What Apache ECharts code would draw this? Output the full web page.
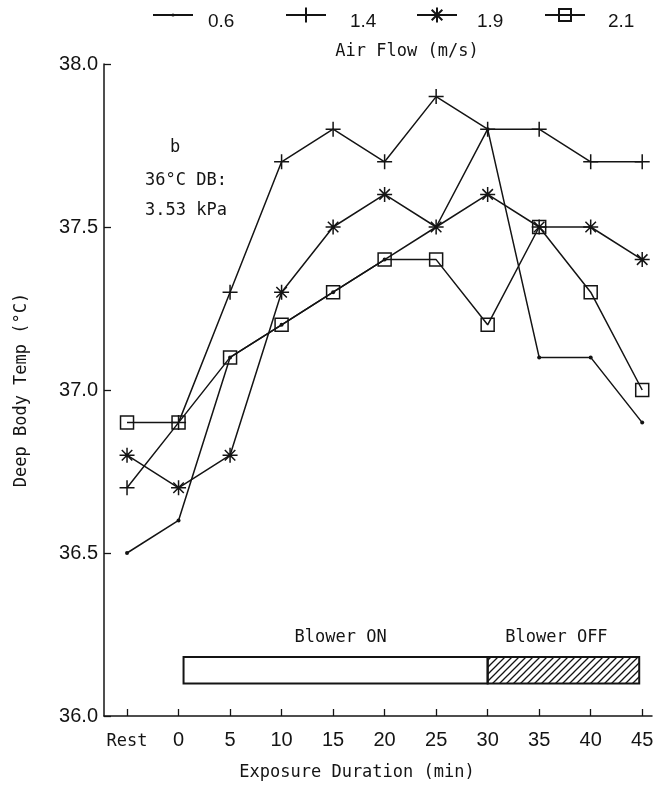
<!DOCTYPE html>
<html><head><meta charset="utf-8">
<script src="https://cdn.jsdelivr.net/npm/echarts@6/dist/echarts.min.js"></script>
<style>html,body{margin:0;padding:0;background:#fff}#c{width:657px;height:787px}</style>
</head><body><div id="c"></div>
<script>
// ---- data ----
const categories = ['Rest','0','5','10','15','20','25','30','35','40','45'];
const seriesNames = ['0.6','1.4','1.9','2.1'];
const flow06 = [36.5,36.6,37.1,37.2,37.3,37.4,37.5,37.8,37.1,37.1,36.9];
const flow14 = [36.7,36.9,37.3,37.7,37.8,37.7,37.9,37.8,37.8,37.7,37.7];
const flow19 = [36.8,36.7,36.8,37.3,37.5,37.6,37.5,37.6,37.5,37.5,37.4];
const flow21 = [36.9,36.9,37.1,37.2,37.3,37.4,37.4,37.2,37.5,37.3,37.0];
const yTicks = [36.0,36.5,37.0,37.5,38.0];
const blowerPhases = [['Blower ON',0,30],['Blower OFF',30,45]]; // minutes
const legendTitle = 'Air Flow (m/s)';
const xTitle = 'Exposure Duration (min)';
const yTitle = 'Deep Body Temp (°C)';
const noteLines = ['b','36°C DB:','3.53 kPa'];

// ---- styling ----
const INK = '#141414';
const MONO = '"DejaVu Sans Mono", "Liberation Mono", monospace';
const SANS = '"Liberation Sans", Arial, sans-serif';
const plusPath = 'path://M0,5 L10,5 M5,0 L5,10';
const starPath = 'path://M0,5 L10,5 M5,0 L5,10 M1.5,1.5 L8.5,8.5 M8.5,1.5 L1.5,8.5';

const pc = document.createElement('canvas'); pc.width = 7; pc.height = 7;
const g = pc.getContext('2d'); g.strokeStyle = INK; g.lineWidth = 1.3; g.beginPath();
g.moveTo(0,7); g.lineTo(7,0); g.moveTo(-1,1); g.lineTo(1,-1); g.moveTo(6,8); g.lineTo(8,6); g.stroke();
const hatch = {image: pc, repeat: 'repeat'};

const idx = categories.map((c,i)=>i);
const toPairs = arr => arr.map((v,i)=>[idx[i], v]);
const allData = [flow06, flow14, flow19, flow21];
const symbols = [
  {symbol:'circle', symbolSize:4, itemStyle:{color:INK, borderWidth:0}},
  {symbol:plusPath, symbolSize:15, itemStyle:{color:'rgba(0,0,0,0)', borderColor:INK, borderWidth:1.5}},
  {symbol:starPath, symbolSize:15, itemStyle:{color:'rgba(0,0,0,0)', borderColor:INK, borderWidth:1.5}},
  {symbol:'rect', symbolSize:13, itemStyle:{color:'rgba(0,0,0,0)', borderColor:INK, borderWidth:1.5}}
];
const legendLefts = [152, 285, 416, 544];
const legendTextX = [208, 350, 477, 608];
const legendItemH = [4, 19, 19, 15];
const LEG_Y = 15;

const chart = echarts.init(document.getElementById('c'), null, {renderer:'canvas'});
const lineSeries = seriesNames.map((n,i)=>Object.assign({
  name:n, type:'line', data: toPairs(allData[i]), showAllSymbol:true,
  lineStyle:{color:INK, width:1.5}, emphasis:{disabled:true}, animation:false, z:3
}, symbols[i]));

const blowerSeries = {
  type:'custom', name:'blower', animation:false, silent:true, z:2, clip:false,
  data: blowerPhases.map((p,i)=>[p[1]/5+1, p[2]/5+1, i]),
  encode:{x:[0,1]},
  renderItem(params, api){
    const x0 = api.value(0), x1 = api.value(1), k = api.value(2);
    const a = api.coord([x0, 36.181]); const b = api.coord([x1, 36.10]);
    const left = a[0] + (k===0 ? 5 : 0), right = b[0] - (k===1 ? 3 : 0);
    return {type:'group', children:[
      {type:'rect', shape:{x:left, y:a[1], width:right-left, height:b[1]-a[1]},
        style:{fill: k===0 ? '#fff' : hatch, stroke:INK, lineWidth:2}},
      {type:'text', style:{text: blowerPhases[k][0], x:(left+right)/2 + (k===0?5:-7), y:a[1]-19,
        align:'center', verticalAlign:'middle', font:'17px ' + MONO, fill:INK}}
    ]};
  }
};

const txt = (text, x, y, opts) => Object.assign({type:'text', x, y,
  style:Object.assign({text, font:'17px '+MONO, fill:INK, align:'center', verticalAlign:'middle'}, (opts||{}).style||{})},
  (opts||{}).el||{});

chart.setOption({
  backgroundColor:'#fff',
  animation:false,
  grid:{left:104, top:64, right:5, bottom:71, containLabel:false},
  legend: seriesNames.map((n,i)=>({data:[n], left:legendLefts[i], top:LEG_Y - legendItemH[i]/2,
    itemWidth:40, itemHeight:legendItemH[i], selectedMode:false, padding:0,
    formatter:()=>'', textStyle:{fontSize:1}})),
  xAxis:{type:'value', min:-0.447, max:10.19,
    axisLine:{onZero:false, lineStyle:{color:INK, width:1.5}},
    axisTick:{inside:true, length:7, customValues:idx, lineStyle:{color:INK, width:1.3}},
    axisLabel:{customValues:idx, margin:14, color:INK, fontFamily:SANS, fontSize:20,
      formatter: v => { const c = categories[Math.round(v)]; return c==='Rest' ? '{m|'+c+'}' : c; },
      rich:{m:{fontFamily:MONO, fontSize:17, color:INK, padding:[3,0,0,0]}}},
    splitLine:{show:false}},
  yAxis:{type:'value', min:36, max:38, interval:0.5,
    axisLine:{show:true, onZero:false, lineStyle:{color:INK, width:1.5}},
    axisTick:{show:true, inside:true, length:7, lineStyle:{color:INK, width:1.3}},
    axisLabel:{margin:6, color:INK, fontFamily:SANS, fontSize:20, formatter: v=>v.toFixed(1)},
    splitLine:{show:false}},
  graphic:[
    txt(legendTitle, 407, 52),
    txt(xTitle, 357, 773),
    txt(yTitle, 22, 390, {el:{rotation:Math.PI/2}}),
    txt(noteLines[0], 175, 148),
    txt(noteLines[1], 145, 181, {style:{align:'left'}}),
    txt(noteLines[2], 145, 211, {style:{align:'left'}})
  ].concat(seriesNames.map((n,i)=>txt(n, legendTextX[i], 22,
      {style:{align:'left', font:'19px '+SANS}}))),
  series:[blowerSeries].concat(lineSeries)
});
</script></body></html>
